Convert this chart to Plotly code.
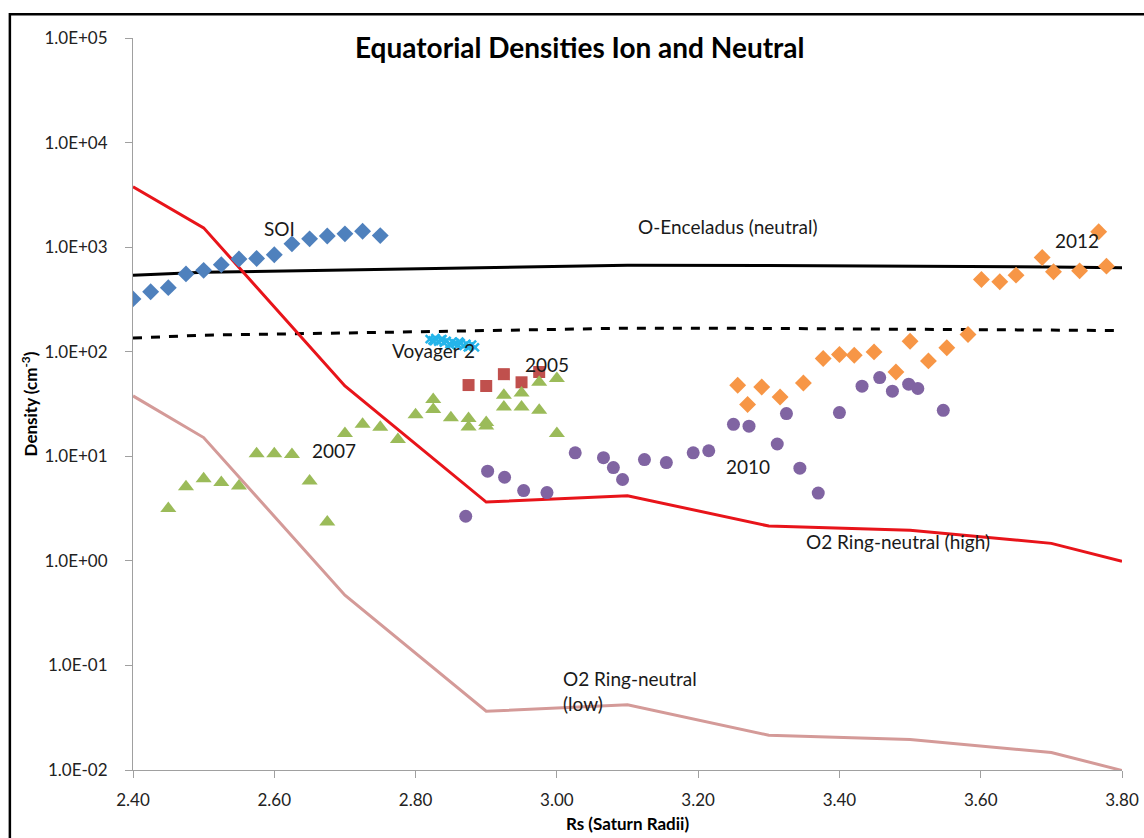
import plotly.graph_objects as go

# ---- data ----
x_model = [2.4, 2.5, 2.7, 2.9, 3.1, 3.3, 3.5, 3.7, 3.8]
o_enceladus = [540, 575, 605, 635, 670, 668, 660, 645, 635]
o_enceladus_low = [135, 144, 151, 159, 168, 167, 165, 161, 159]
o2_high = [3780, 1530, 47, 3.65, 4.2, 2.15, 1.96, 1.47, 0.99]
o2_low = [37.8, 15.1, 0.47, 0.0365, 0.042, 0.0215, 0.0196, 0.0147, 0.0099]

soi_x = [2.400, 2.425, 2.450, 2.475, 2.500, 2.525, 2.550, 2.575, 2.600, 2.625, 2.650, 2.675, 2.700, 2.725, 2.750]
soi_y = [320, 375, 410, 555, 600, 680, 770, 780, 845, 1075, 1200, 1280, 1340, 1420, 1290]

voy_x = [2.820, 2.824, 2.828, 2.832, 2.836, 2.840, 2.844, 2.848, 2.852, 2.856, 2.860,
         2.864, 2.868, 2.872, 2.876, 2.880, 2.884, 2.826, 2.838, 2.850, 2.862, 2.874]
voy_y = [132, 128, 135, 125, 130, 122, 127, 118, 124, 120, 116,
         121, 114, 119, 112, 117, 110, 126, 132, 115, 125, 110]

y2005_x = [2.875, 2.900, 2.925, 2.950, 2.975]
y2005_y = [48, 47, 61, 51, 64]

y2007_x = [2.450, 2.475, 2.500, 2.525, 2.550, 2.575, 2.600, 2.625, 2.650, 2.675, 2.700,
           2.725, 2.750, 2.775, 2.800, 2.825, 2.825, 2.850, 2.875, 2.875, 2.900, 2.900,
           2.925, 2.925, 2.950, 2.950, 2.975, 2.975, 3.000, 3.000]
y2007_y = [3.16, 5.1, 6.1, 5.6, 5.2, 10.6, 10.6, 10.4, 5.8, 2.35, 16.5,
           20.2, 19.0, 14.5, 25.0, 35.0, 28.0, 23.4, 23.0, 19.1, 21.0, 19.5,
           38.4, 29.6, 40.4, 29.6, 51.0, 27.5, 55.5, 16.5]

y2010_x = [2.871, 2.902, 2.926, 2.953, 2.986, 3.026, 3.066, 3.080, 3.093, 3.124, 3.155,
           3.193, 3.215, 3.250, 3.272, 3.312, 3.325, 3.344, 3.370, 3.400, 3.432, 3.457,
           3.475, 3.498, 3.511, 3.547]
y2010_y = [2.67, 7.2, 6.3, 4.7, 4.5, 10.8, 9.7, 7.8, 6.0, 9.3, 8.7,
           10.8, 11.3, 20.2, 19.4, 13.1, 25.6, 7.7, 4.45, 26.2, 46.8, 56.6,
           41.9, 48.9, 44.5, 27.5]

y2012_x = [3.256, 3.270, 3.290, 3.316, 3.349, 3.377, 3.400, 3.421, 3.449, 3.480, 3.500,
           3.526, 3.552, 3.582, 3.601, 3.627, 3.650, 3.687, 3.703, 3.740, 3.767, 3.778]
y2012_y = [47.8, 31.3, 46, 36.9, 50.2, 86, 94, 92.6, 99.6, 64, 126,
           81.7, 109, 146, 491, 466, 540, 797, 581, 593, 1403, 658]

x_ticks = [2.4, 2.6, 2.8, 3.0, 3.2, 3.4, 3.6, 3.8]
x_tick_text = ["2.40", "2.60", "2.80", "3.00", "3.20", "3.40", "3.60", "3.80"]
y_ticks = [1e-2, 1e-1, 1e0, 1e1, 1e2, 1e3, 1e4, 1e5]
y_tick_text = ["1.0E-02", "1.0E-01", "1.0E+00", "1.0E+01", "1.0E+02", "1.0E+03", "1.0E+04", "1.0E+05"]

FONT = "Lato"

fig = go.Figure()

fig.add_trace(go.Scatter(x=x_model, y=o_enceladus, mode="lines",
                         line=dict(color="black", width=3), name="O-Enceladus"))
fig.add_trace(go.Scatter(x=x_model, y=o_enceladus_low, mode="lines",
                         line=dict(color="black", width=3, dash="dash"), name="O-Enceladus low"))
fig.add_trace(go.Scatter(x=x_model, y=o2_high, mode="lines",
                         line=dict(color="#e8141a", width=3), name="O2 high"))
fig.add_trace(go.Scatter(x=x_model, y=o2_low, mode="lines",
                         line=dict(color="#d49a98", width=3), name="O2 low"))

fig.add_trace(go.Scatter(x=soi_x, y=soi_y, mode="markers",
                         marker=dict(symbol="diamond", size=13, color="#4f81bd"), name="SOI"))
fig.add_trace(go.Scatter(x=voy_x, y=voy_y, mode="markers",
                         marker=dict(symbol="x-thin", size=8, color="#25b5ea",
                                     line=dict(color="#25b5ea", width=2.5)), name="Voyager 2"))
fig.add_trace(go.Scatter(x=y2005_x, y=y2005_y, mode="markers",
                         marker=dict(symbol="square", size=12, color="#c0504d"), name="2005"))
fig.add_trace(go.Scatter(x=y2007_x, y=y2007_y, mode="markers",
                         marker=dict(symbol="triangle-up", size=14, color="#9bbb59"), name="2007"))
fig.add_trace(go.Scatter(x=y2010_x, y=y2010_y, mode="markers",
                         marker=dict(symbol="circle", size=13, color="#8064a2"), name="2010"))
fig.add_trace(go.Scatter(x=y2012_x, y=y2012_y, mode="markers",
                         marker=dict(symbol="diamond", size=13, color="#f79646"), name="2012"))

ann_font = dict(family=FONT, size=19, color="#1a1a1a")
annotations = [
    dict(x=2.608, y=3.182, text="SOI"),
    dict(x=3.241, y=3.201, text="O-Enceladus (neutral)"),
    dict(x=3.736, y=3.067, text="2012"),
    dict(x=2.826, y=2.014, text="Voyager 2"),
    dict(x=2.986, y=1.880, text="2005"),
    dict(x=2.685, y=1.057, text="2007"),
    dict(x=3.271, y=0.904, text="2010"),
    dict(x=3.483, y=0.187, text="O2 Ring-neutral (high)"),
    dict(x=3.006, y=-1.249, text="O2 Ring-neutral<br>(low)", xanchor="left", align="left"),
]
for a in annotations:
    a.setdefault("xanchor", "center")
    a.update(xref="x", yref="y", showarrow=False, font=ann_font, yanchor="middle")

annotations.append(dict(xref="paper", yref="paper", x=0.452, y=0.988,
                        text="<b>Equatorial Densities Ion and Neutral</b>", showarrow=False,
                        font=dict(family=FONT, size=28, color="black"),
                        xanchor="center", yanchor="middle"))

fig.update_layout(
    width=1144, height=838,
    margin=dict(l=133, r=22, t=38, b=68),
    paper_bgcolor="white", plot_bgcolor="white",
    showlegend=False,
    annotations=annotations,
    shapes=[dict(type="rect", xref="paper", yref="paper",
                 x0=-0.1245, x1=1.2, y0=-0.2, y1=1.0325,
                 line=dict(color="black", width=2.5), layer="above")],
    font=dict(family=FONT, size=17, color="#222222"),
)

fig.update_xaxes(range=[2.4, 3.8], tickvals=x_ticks, ticktext=x_tick_text, automargin=False,
                 showgrid=False, zeroline=False, showline=True, linecolor="#a0a0a0", linewidth=1,
                 ticks="outside", ticklen=7, tickcolor="#a0a0a0", ticklabelstandoff=8,
                 tickfont=dict(family=FONT, size=17, color="#222222"),
                 title=dict(text="<b>Rs (Saturn Radii)</b>", font=dict(family=FONT, size=17, color="black"),
                            standoff=8))
fig.update_yaxes(type="log", range=[-2, 5], tickvals=y_ticks, ticktext=y_tick_text, automargin=False,
                 showgrid=False, zeroline=False, showline=True, linecolor="#a0a0a0", linewidth=1,
                 ticks="outside", ticklen=7, tickcolor="#a0a0a0", ticklabelstandoff=14,
                 tickfont=dict(family=FONT, size=17, color="#222222"),
                 title=dict(text="<b>Density (cm<sup>-3</sup>)</b>", font=dict(family=FONT, size=17, color="black"),
                            standoff=2))

fig.write_html("out.html")
